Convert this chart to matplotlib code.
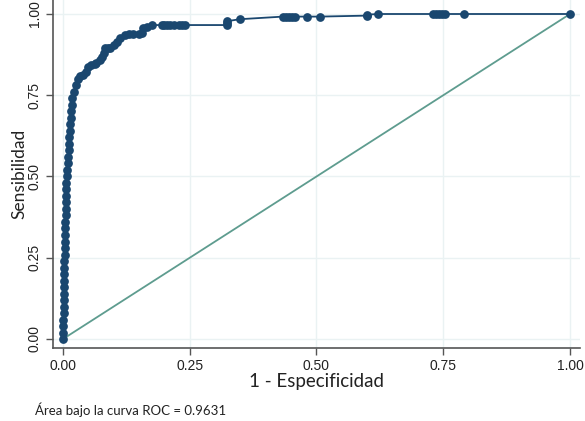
import matplotlib
matplotlib.use("Agg")
import matplotlib.pyplot as plt

# ROC curve points (1 - specificity, sensitivity)
fpr = [0.000, 0.000, 0.000, 0.000, 0.001, 0.001, 0.001, 0.001, 0.001, 0.002,
       0.002, 0.002, 0.002, 0.003, 0.003, 0.003, 0.004, 0.004, 0.004, 0.005,
       0.005, 0.005, 0.006, 0.006, 0.006, 0.007, 0.008, 0.009, 0.010, 0.011,
       0.012, 0.012, 0.013, 0.014, 0.015, 0.016, 0.017, 0.018, 0.021, 0.025,
       0.029, 0.033, 0.040, 0.046, 0.050, 0.055, 0.063, 0.066, 0.073, 0.076,
       0.080, 0.083, 0.088, 0.093, 0.100, 0.106, 0.113, 0.122, 0.130, 0.139,
       0.150, 0.155, 0.158, 0.165, 0.175, 0.195, 0.200, 0.206, 0.212, 0.218,
       0.228, 0.234, 0.240, 0.323, 0.323, 0.324, 0.349, 0.434, 0.440, 0.446,
       0.452, 0.458, 0.481, 0.507, 0.599, 0.600, 0.622, 0.730, 0.736, 0.742,
       0.748, 0.754, 0.790, 1.000]
tpr = [0.000, 0.020, 0.040, 0.060, 0.080, 0.100, 0.120, 0.140, 0.160, 0.180,
       0.200, 0.220, 0.240, 0.260, 0.280, 0.300, 0.320, 0.340, 0.360, 0.380,
       0.400, 0.420, 0.440, 0.460, 0.480, 0.500, 0.520, 0.540, 0.560, 0.580,
       0.600, 0.620, 0.640, 0.660, 0.680, 0.700, 0.720, 0.740, 0.760, 0.780,
       0.800, 0.810, 0.812, 0.820, 0.838, 0.843, 0.846, 0.848, 0.858, 0.869,
       0.880, 0.894, 0.894, 0.895, 0.905, 0.915, 0.925, 0.935, 0.937, 0.937,
       0.937, 0.940, 0.956, 0.960, 0.966, 0.966, 0.966, 0.966, 0.966, 0.966,
       0.966, 0.966, 0.966, 0.966, 0.972, 0.978, 0.984, 0.992, 0.992, 0.992,
       0.992, 0.992, 0.992, 0.992, 0.995, 0.998, 1.000, 1.000, 1.000, 1.000,
       1.000, 1.000, 1.000, 1.000]

ref_x = [0.0, 1.0]
ref_y = [0.0, 1.0]

ticks = [0.0, 0.25, 0.5, 0.75, 1.0]
tick_labels = ["0.00", "0.25", "0.50", "0.75", "1.00"]
xlabel = "1 - Especificidad"
ylabel = "Sensibilidad"
note = "Área bajo la curva ROC = 0.9631"

W, H = 585, 421
fig = plt.figure(figsize=(W / 100, H / 100), dpi=100)
fig.patch.set_facecolor("white")

left_px, right_px, bottom_px, top_px = 53, 580, 348, 0
ax = fig.add_axes([left_px / W, 1 - bottom_px / H,
                   (right_px - left_px) / W, (bottom_px - top_px) / H])

# data->pixel mapping: x0=63, x1=570 ; y0=339, y1=14
x_per = 507.0
y_per = 325.0
ax.set_xlim((left_px - 63) / x_per, (right_px - 63) / x_per)
ax.set_ylim(-(bottom_px - 339) / y_per, (339 - top_px) / y_per)

navy = "#1a476f"
teal = "#5e9c8f"

ax.plot(ref_x, ref_y, color=teal, lw=1.3, zorder=2, solid_capstyle="butt")
ax.plot(fpr, tpr, color=navy, lw=1.3, marker="o", markersize=6.3,
        markeredgewidth=0, zorder=3, clip_on=False)

ax.set_xticks(ticks)
ax.set_xticklabels(tick_labels)
ax.set_yticks(ticks)
ax.set_yticklabels(tick_labels, rotation=90, va="center")

for lab in ax.get_xticklabels() + ax.get_yticklabels():
    lab.set_fontfamily("Liberation Sans")
    lab.set_fontsize(10)
    lab.set_color("#222222")

ax.tick_params(axis="both", direction="out", length=5, width=1.0,
               color="#555555", pad=3)
ax.grid(True, color="#eaf2f3", lw=1.0, zorder=0)
ax.set_axisbelow(True)

for s in ["top", "right"]:
    ax.spines[s].set_visible(False)
for s in ["left", "bottom"]:
    ax.spines[s].set_color("#555555")
    ax.spines[s].set_linewidth(1.2)

ax.set_xlabel(xlabel, fontfamily="Lato", fontsize=13.5, color="#222222",
              labelpad=0)
ax.set_ylabel(ylabel, fontfamily="Lato", fontsize=12.5, color="#222222",
              labelpad=0)

fig.text(35 / W, 1 - 410 / H, note, fontfamily="Lato", fontsize=9.5,
         color="#222222", va="center", ha="left")

fig.savefig("out.png", dpi=100, facecolor="white")
